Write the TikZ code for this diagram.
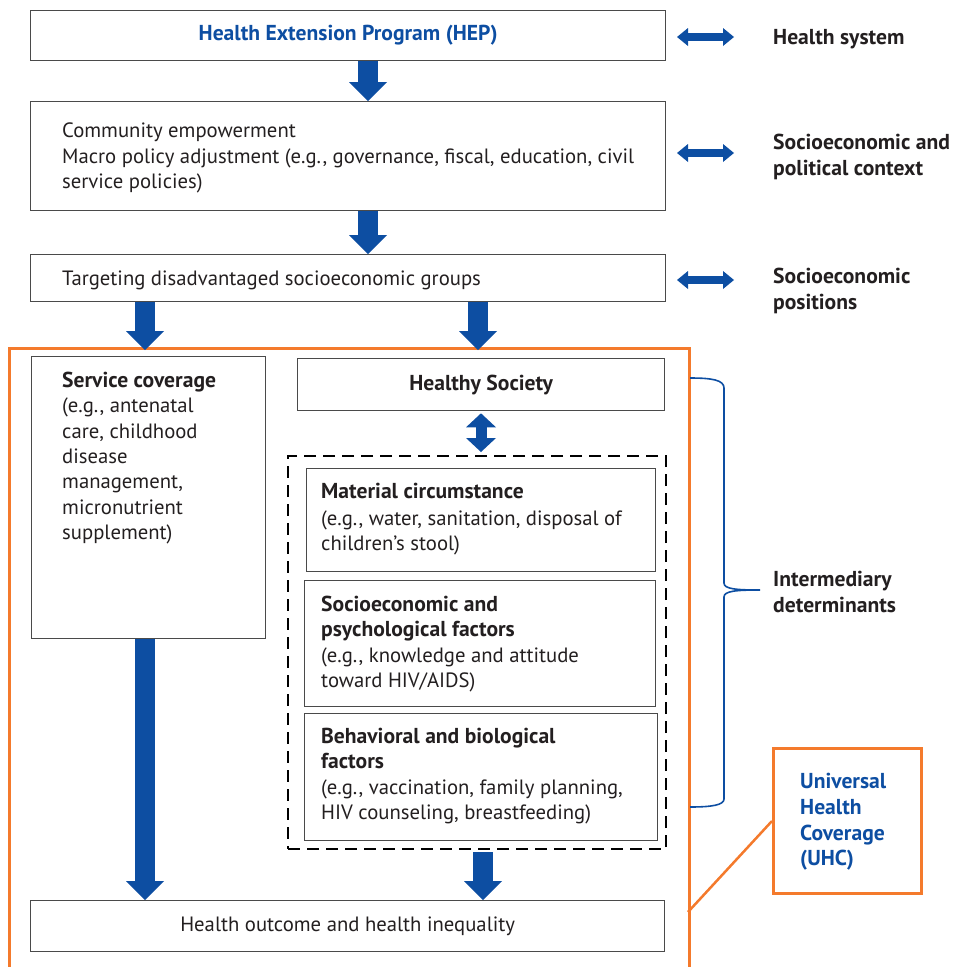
\documentclass[tikz,border=0pt]{standalone}
\usepackage{fontspec}
\setmainfont{PT Sans}
\usetikzlibrary{arrows.meta}
\definecolor{hblue}{HTML}{0D4EA2}
\definecolor{horange}{HTML}{F47A2C}
\definecolor{htext}{HTML}{231F20}
\definecolor{hgray}{HTML}{4A4A4A}
\newcommand\hb[1]{{\fontsize{21.6}{25.3}\selectfont\bfseries #1}}
\begin{document}
\begin{tikzpicture}[x=1pt,y=-1pt,
  box/.style={draw=hgray, line width=1.3pt, rectangle, inner sep=0pt, anchor=north west, text=htext, font=\fontsize{20.7}{25.3}\selectfont},
  txt/.style={inner sep=0pt, align=left, anchor=north west, text=htext, font=\fontsize{20.7}{25.3}\selectfont},
  lbl/.style={txt, font=\fontsize{21.6}{25.8}\selectfont\bfseries},
  blockarrow/.style={draw=hblue, line width=20pt, -{Triangle[length=19pt, width=38pt, line width=0pt]}},
  sidearrow/.style={draw=hblue, line width=8pt, {Triangle[length=11pt, width=18pt, line width=0pt]}-{Triangle[length=11pt, width=18pt, line width=0pt]}},
  vdarrow/.style={draw=hblue, line width=11pt, {Triangle[length=14pt, width=30pt, line width=0pt]}-{Triangle[length=14pt, width=30pt, line width=0pt]}},
]
\useasboundingbox (0,0) rectangle (954,967);

% orange UHC area
\node[draw=horange, line width=2.5pt, rectangle, inner sep=0pt, anchor=north west,
      minimum width=680pt, minimum height=660pt] (area) at (8,347) {};

% top boxes
\node[box, minimum width=635pt, minimum height=50pt] (hep) at (30,10)
  {\textcolor{hblue}{\hb{Health Extension Program (HEP)}}};
\node[box, minimum width=635pt, minimum height=109pt] (pol) at (30,101) {};
\node[txt, anchor=west] (polt) at ([xshift=32pt,yshift=-2pt]pol.west)
  {Community empowerment\\Macro policy adjustment (e.g., governance, fiscal, education, civil\\service policies)};
\node[box, minimum width=635pt, minimum height=47pt] (tgt) at (30,254) {};
\node[txt, anchor=west] (tgtt) at ([xshift=32pt,yshift=-2pt]tgt.west) {Targeting disadvantaged socioeconomic groups};

% inside area
\node[box, minimum width=234pt, minimum height=282pt] (svc) at (31,356) {};
\node[txt] (svct) at (62,372)
  {\hb{Service coverage}\\(e.g., antenatal\\care, childhood\\disease\\management,\\micronutrient\\supplement)};
\node[box, minimum width=367pt, minimum height=52pt] (hs) at (297,358) {\hb{Healthy Society}};
\node[draw=black, line width=2.2pt, dash pattern=on 12pt off 7pt, rectangle, inner sep=0pt, anchor=north west,
      minimum width=378pt, minimum height=393pt] (dash) at (287,455) {};
\node[box, minimum width=349pt, minimum height=103pt] (mat) at (306,468) {};
\node[txt] (matt) at (321,483)
  {\hb{Material circumstance}\\[1.5pt](e.g., water, sanitation, disposal of\\children’s stool)};
\node[box, minimum width=351pt, minimum height=126pt] (soc) at (304,580) {};
\node[txt] (soct) at (321,596)
  {\hb{Socioeconomic and}\\\hb{psychological factors}\\(e.g., knowledge and attitude\\toward HIV/AIDS)};
\node[box, minimum width=353pt, minimum height=127pt] (beh) at (304,713) {};
\node[txt] (beht) at (321,728)
  {\hb{Behavioral and biological}\\\hb{factors}\\(e.g., vaccination, family planning,\\HIV counseling, breastfeeding)};
\node[box, minimum width=634pt, minimum height=51pt] (out) at (30,900) {Health outcome and health inequality};

% right labels
\node[lbl] (l1) at (773,29) {Health system};
\node[lbl] (l2) at (773,134) {Socioeconomic and\\political context};
\node[lbl] (l3) at (773,268) {Socioeconomic\\positions};
\node[lbl] (l4) at (773,571) {Intermediary\\determinants};

% UHC box
\node[draw=horange, line width=3pt, rectangle, inner sep=0pt, anchor=north west,
      minimum width=148pt, minimum height=145pt] (uhc) at (772,747) {};
\node[lbl, text=hblue] (uhct) at (800,773) {Universal\\Health\\Coverage\\(UHC)};
\coordinate (uhcfoot) at (688,912);
\draw[horange, line width=2.5pt] (uhcfoot) -- (uhc.west);

% block arrows
\coordinate (ax) at (368,0);
\coordinate (bx) at (145,0);
\coordinate (cx) at (478,0);
\coordinate (dx) at (483,0);
\coordinate (ex) at (481,0);
\draw[blockarrow] (hep.south -| ax) -- (pol.north -| ax);
\draw[blockarrow] (pol.south -| ax) -- (tgt.north -| ax);
\draw[blockarrow] (tgt.south -| bx) -- ([yshift=-3pt]area.north -| bx);
\draw[blockarrow] (tgt.south -| cx) -- ([yshift=-3pt]area.north -| cx);
\draw[blockarrow] (svc.south -| bx) -- (out.north -| bx);
\draw[blockarrow] ([yshift=-2pt]dash.south -| dx) -- (out.north -| dx);
\draw[vdarrow, shorten <=2pt, shorten >=3pt] (hs.south -| ex) -- (dash.north -| ex);

% side arrows
\coordinate (s1l) at (677,37);  \coordinate (s1r) at (734,37);
\coordinate (s2l) at (677,153); \coordinate (s2r) at (734,153);
\coordinate (s3l) at (677,280); \coordinate (s3r) at (734,280);
\draw[sidearrow] (s1l) -- (s1r);
\draw[sidearrow] (s2l) -- (s2r);
\draw[sidearrow] (s3l) -- (s3r);

% brace
\draw[hblue, line width=1.6pt] (690,378) .. controls (712,378) and (724,380) .. (724,388)
  -- (724,583) .. controls (724,589) and (736,590) .. (760,590)
  .. controls (736,590) and (724,591) .. (724,597)
  -- (724,799) .. controls (724,805) and (712,807) .. (690,807);
\end{tikzpicture}
\end{document}
